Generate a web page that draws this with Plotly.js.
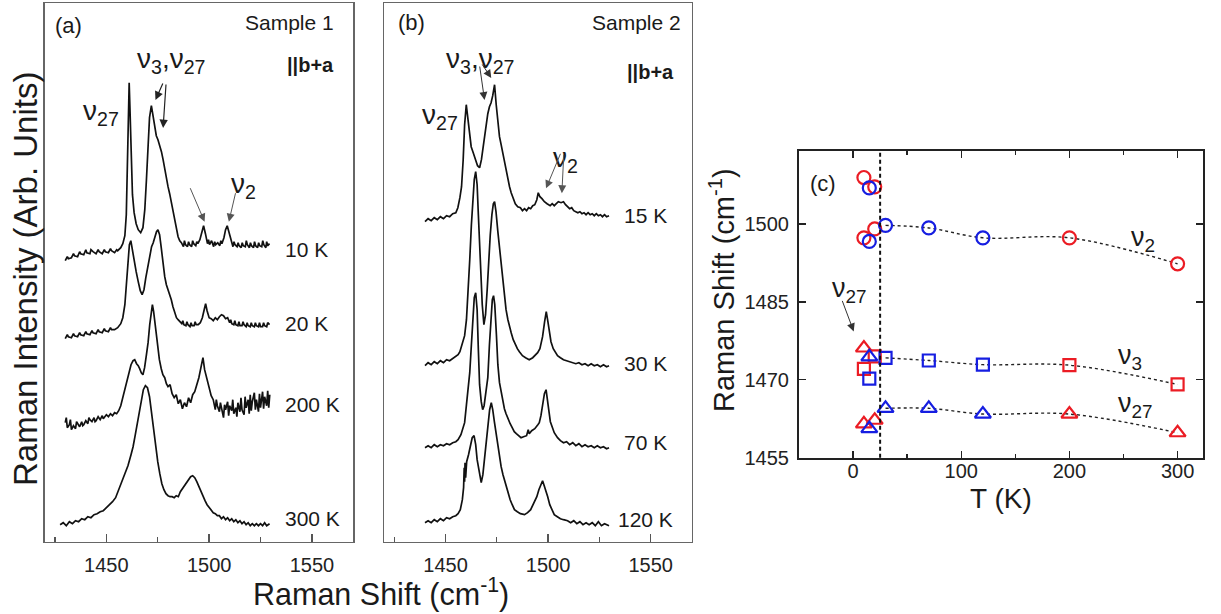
<!DOCTYPE html>
<html><head><meta charset="utf-8">
<script src="https://cdn.plot.ly/plotly-3.0.1.min.js"></script>
<style>html,body{margin:0;padding:0;background:#fff}</style>
</head><body><div id="chart" style="width:1221px;height:614px"></div>
<script>
// ---------- Panel (a): Sample 1 spectra [Raman shift (cm-1), intensity (arb.)] ----------
const a_10K = [[1430,1],[1431,5],[1431.5,3],[1433,4],[1434,8],[1434.5,6],[1436,5],[1437,10],[1437.5,8],[1439,7],[1440,12],[1440.5,9],[1442,8],[1442.5,12],[1443.5,10],[1445,8],[1446,12],[1446.5,10],[1448,8],[1449,12],[1449.5,10],[1451,9],[1452,13],[1452.5,11],[1454,9],[1455,12],[1455.5,11],[1457,14],
[1458,18],[1459,26],[1459.7,47],[1460.3,92],[1460.8,152],[1461.1,179],[1461.5,152],[1462,102],[1462.7,67],[1463.5,49],[1464.5,38],[1465.5,32],[1466.7,29],[1467.8,34],[1468.7,52],[1469.5,82],[1470.3,117],[1471,144],[1471.9,156],[1472.7,147],[1473.5,134],[1474.3,126],[1475.1,122],[1476,116],[1476.8,110],[1477.6,102],[1478.4,92],[1479.2,84],[1480,75],[1480.8,68],[1481.6,59],[1482.4,50],[1483.3,39],[1484.1,31],[1484.9,25],[1485.7,21],[1486.5,19],
[1487.5,15],[1488,21],[1488.5,17],[1489.5,15],[1490,20],[1490.5,17],[1491.5,15],[1492,21],[1492.5,18],[1493.5,16],[1494,20],[1494.5,18],[1495.5,22],[1496.5,30],[1497.3,36],[1498.2,28],[1499.2,18],[1499.7,22],[1500.2,17],[1501.2,21],[1502.2,15],[1502.7,20],[1503.2,17],[1504.2,19],[1505.2,16],[1505.7,21],[1506.2,18],[1507.2,24],[1508,32],[1508.8,36],[1509.7,29],[1510.6,20],
[1511.6,15],[1512.1,20],[1512.6,17],[1513.6,15],[1514.1,19],[1514.6,16],[1515.6,14],[1516.1,19],[1516.6,16],[1517.6,15],[1518.1,21],[1518.6,17],[1519.6,14],[1520.1,19],[1520.6,16],[1521.6,14],[1522.1,20],[1522.6,16],[1523.6,14],[1524.1,19],[1524.6,16],[1525.6,15],[1526.1,21],[1526.6,17],[1527.6,14],[1528,20],[1528.5,16],[1529.4,18]];
const a_20K = [[1430,1],[1431,5],[1431.5,3],[1433,2],[1434,6],[1434.5,4],[1436,3],[1437,7],[1437.5,5],[1439,4],[1440,8],[1440.5,6],[1442,5],[1443,9],[1443.5,7],[1445,6],[1446,10],[1446.5,8],[1448,7],[1449,11],[1449.5,9],[1451,8],[1452,12],[1452.5,10],[1454,10],[1455.5,12],[1457,16],[1458,22],[1459,35],[1459.8,55],[1460.5,78],[1461.2,95],[1461.9,99],[1462.6,90],[1463.5,78],[1464.5,68],[1465.5,58],[1466.5,49],[1467.4,45],[1468.3,50],[1469.2,62],[1470.3,74],[1471.2,86],[1472,93],[1472.8,97],[1473.6,103],[1474.4,108],[1475.1,110],[1475.9,105],[1476.7,92],[1477.5,78],[1478.4,63],[1479.2,55],[1480,50],[1480.8,46],[1481.6,40],[1482.4,33],[1483.3,27],[1484.1,22],[1484.9,20],[1485.7,18],[1486.7,16],[1487.2,19],[1487.7,15],[1488.7,14],[1489.2,18],[1489.7,15],[1490.7,13],[1491.2,17],[1491.7,14],[1492.7,14],[1493.2,18],[1493.7,15],[1494.7,15],[1495.7,17],[1496.7,22],[1497.6,30],[1498.3,36],[1499,29],[1500,22],[1501,21],[1502,19],[1503,22],[1504,20],[1505,23],[1506,25],[1507,24],[1508,21],[1509,22],[1510,17],[1510.5,20],[1511,16],[1512,15],[1512.5,19],[1513,15],[1514,14],[1514.5,18],[1515,14],[1516,14],[1516.5,18],[1517,15],[1518,13],[1518.5,17],[1519,14],[1520,13],[1520.5,17],[1521,14],[1522,13],[1522.5,17],[1523,14],[1524,13],[1524.5,17],[1525,13],[1526,13],[1526.5,17],[1527,14],[1528,13],[1528.5,17],[1529.4,15]];
const a_200K = [[1430,7],[1430.5,12],[1431,2],[1432,5],[1432.5,10],[1433,0],[1434,4],[1435,1],[1435.5,8],[1436,6],[1437,3],[1438,8],[1438.5,4],[1439,5],[1440,9],[1441,6],[1441.5,12],[1442,10],[1443,8],[1444,12],[1444.5,8],[1445,9],[1446,13],[1447,10],[1448,14],[1448.5,11],[1449,12],[1450,15],[1451,13],[1452,16],[1453,14],[1454,17],[1455,16],[1456,19],[1457,24],[1458,32],[1459,40],[1460,50],[1461,58],[1462,65],[1463,69],[1463.8,70],[1464.7,66],[1465.5,64],[1466.2,61],[1467,57],[1467.8,55],[1468.6,62],[1469.5,75],[1470.3,87],[1471.1,105],[1471.8,120],[1472.4,125],[1473,118],[1473.7,106],[1474.3,97],[1475,85],[1475.8,70],[1476.7,61],[1477.5,55],[1478.4,52],[1479.2,46],[1480,43],[1481,45],[1482,36],[1483,32],[1484,35],[1485,26],[1486,30],[1487,21],[1488,27],[1489,23],[1490,32],[1491,27],[1492,35],[1493,38],[1494,45],[1495,52],[1496,62],[1497,72],[1497.8,60],[1498.6,54],[1499.4,47],[1500.2,40],[1501,34],[1502,30],[1503,20],[1503.5,30],[1504,24],[1505,18],[1505.5,27],[1506,22],[1507,12],[1507.5,25],[1508,20],[1509,28],[1509.5,14],[1510,24],[1511,19],[1511.5,30],[1512,16],[1513,22],[1513.5,13],[1514,27],[1515,18],[1515.5,32],[1516,20],[1517,15],[1517.5,33],[1518,22],[1519,30],[1519.5,16],[1520,35],[1520.5,19],[1521,28],[1522,37],[1522.5,20],[1523,30],[1524,18],[1524.5,36],[1525,22],[1526,38],[1526.5,21],[1527,33],[1528,24],[1528.5,39],[1529,22],[1529.5,35]];
const a_300K = [[1427.5,2],[1429,4],[1430.5,1],[1432,5],[1433.5,3],[1435,6],[1436.5,5],[1438,8],[1439.5,7],[1441,10],[1442.5,9],[1444,12],[1445.5,13],[1447,15],[1448.5,16],[1450,19],[1451.5,21],[1453,25],[1454.5,29],[1456,37],[1457.5,43],[1459,51],[1460.5,61],[1462,72],[1463,80],[1464,91],[1465,103],[1466,114],[1467,127],[1468,137],[1469,141],[1470,139],[1471,130],[1472,113],[1473,97],[1474,81],[1475,65],[1476,53],[1477,43],[1478,37],[1479,33],[1480,31],[1481,30],[1482,30],[1483,29],[1484,31],[1485,30],[1486,35],[1487,38],[1488,42],[1489,45],[1490,48],[1491,50],[1492,51],[1493,49],[1494,45],[1495,40],[1496,35],[1497,30],[1498,26],[1499,22],[1500,19],[1501,17],[1502,14],[1503,13],[1504,11],[1505,11],[1506,8],[1507,10],[1508,7],[1509,9],[1510,6],[1511,8],[1512,5],[1513,7],[1514,4],[1515,6],[1516,3],[1517,5],[1518,2],[1519,4],[1520,1],[1521,3],[1522,1],[1523,3],[1524,1],[1525,3],[1526,1],[1527,4],[1528,1],[1529.4,3]];

// ---------- Panel (b): Sample 2 spectra ----------
const b_15K = [[1440,0],[1441.5,3],[1443,1],[1444.5,4],[1446,2],[1447.5,5],[1449,3],[1450.5,6],[1452,5],[1453.5,8],[1455,9],[1456,14],[1457,24],[1457.8,35],[1458.6,62],[1459.3,97],[1460.1,117],[1460.9,104],[1461.7,87],[1462.5,75],[1463.5,69],[1464.5,62],[1465.6,56],[1466.6,54],[1467.5,62],[1468.3,74],[1469,85],[1469.8,97],[1470.6,108],[1471.4,115],[1472.2,119],[1473,126],[1473.9,137],[1474.7,117],[1475.5,97],[1476.3,85],[1477.1,77],[1477.9,69],[1478.7,59],[1479.5,50],[1480.4,42],[1481.2,35],[1482,29],[1483,23],[1484,18],[1485.2,15],[1486.5,14],[1487.5,11],[1488.5,13],[1489.5,11],[1490.5,14],[1491.5,13],[1492.5,16],[1493.5,17],[1494.5,22],[1495.2,29],[1496,25],[1497,23],[1498.2,20],[1499.5,18],[1501,16],[1502,18],[1503,16],[1504,18],[1505,20],[1506.3,19],[1507.5,20],[1508.5,17],[1509.5,15],[1510.5,13],[1511.5,14],[1512.5,11],[1513.5,10],[1514.5,9],[1515.5,10],[1516.5,8],[1517.5,9],[1518.5,7],[1519.5,9],[1520.5,7],[1521.5,8],[1522.5,6],[1523.5,8],[1524.5,6],[1525.5,7],[1526.5,5],[1527.5,7],[1528.5,5],[1529.7,6]];
const b_30K = [[1440,1],[1441.5,4],[1443,2],[1444.5,5],[1446,3],[1447.5,6],[1449,4],[1450.5,7],[1452,6],[1453.5,8],[1455,10],[1456.1,12],[1457,15],[1458,21],[1459.3,31],[1460.2,47],[1461,72],[1461.8,107],[1462.6,142],[1463.4,172],[1464,187],[1464.7,195],[1465.4,182],[1466,152],[1466.6,124],[1467.2,92],[1467.9,62],[1468.7,42],[1469.5,52],[1470.3,77],[1471,107],[1471.8,132],[1472.6,152],[1473.3,163],[1473.9,165],[1474.6,155],[1475.5,135],[1476.3,120],[1477.1,102],[1477.9,85],[1478.7,70],[1479.5,57],[1480.4,47],[1481.2,39],[1482,34],[1483,27],[1484,22],[1485,18],[1486,15],[1487.5,11],[1489,9],[1490.8,7],[1492.5,9],[1494,12],[1494.9,14],[1496,18],[1497.3,30],[1498.3,45],[1499.1,55],[1499.9,45],[1500.7,32],[1501.4,25],[1502.5,18],[1503.5,14],[1504.6,11],[1506,9],[1507.5,7],[1509,6],[1510.5,5],[1512,4],[1513.5,3],[1515,4],[1516.5,2],[1518,3],[1519.5,1],[1521,3],[1522.5,1],[1524,2],[1525.5,0],[1527,2],[1528.5,0],[1529.7,1]];
const b_70K = [[1440,1],[1441.5,3],[1443,1],[1444.5,4],[1446,2],[1447.5,4],[1449,3],[1450.5,5],[1452,4],[1453.5,6],[1455,7],[1456.1,9],[1457.5,14],[1459.3,26],[1460.2,44],[1461,59],[1461.8,76],[1462.6,104],[1463.4,134],[1464,151],[1464.7,156],[1465.4,139],[1466,99],[1466.6,64],[1467.4,47],[1468.1,39],[1468.8,43],[1469.6,54],[1470.6,71],[1471.4,104],[1472.2,134],[1472.8,149],[1473.4,153],[1474,144],[1474.8,114],[1475.5,84],[1476.3,66],[1477.1,56],[1477.9,47],[1478.7,40],[1479.5,35],[1480.4,30],[1481.5,25],[1482.5,21],[1483.5,17],[1484.5,15],[1485.5,13],[1486.8,11],[1488,12],[1489.5,13],[1490.3,19],[1490.8,15],[1492,18],[1493.5,20],[1495,24],[1495.7,26],[1496.5,33],[1497.3,43],[1498.2,55],[1499,59],[1499.8,49],[1500.5,36],[1501.1,27],[1502,21],[1503,16],[1504.6,11],[1506,8],[1507.5,6],[1509,7],[1510.5,4],[1512,6],[1513.5,3],[1515,5],[1516.5,2],[1518,4],[1519.5,2],[1521,3],[1522.5,1],[1524,3],[1525.5,1],[1527,2],[1528.5,0],[1529.7,1]];
const b_120K = [[1440,2],[1441.5,4],[1443,2],[1444.5,5],[1446,3],[1447.5,6],[1449,4],[1450.5,7],[1452,6],[1453.5,8],[1455,9],[1456.1,11],[1457.2,15],[1458.2,25],[1458.8,37],[1459.1,57],[1459.3,43],[1459.5,62],[1459.8,47],[1460.3,63],[1461.2,70],[1462.1,80],[1463,87],[1463.9,89],[1464.7,80],[1465.4,65],[1466,57],[1466.7,47],[1467.4,42],[1468.2,50],[1469,67],[1469.9,85],[1470.7,103],[1471.5,115],[1472.3,122],[1473,115],[1473.8,103],[1474.7,90],[1475.5,77],[1476.3,67],[1477.1,58],[1478,50],[1479,42],[1480.4,32],[1481.5,25],[1482.5,20],[1483.6,15],[1485,13],[1486.5,11],[1488.5,10],[1490,12],[1491.5,15],[1493.3,22],[1494.5,28],[1495.5,35],[1496.5,41],[1497.3,44],[1498.1,39],[1499,34],[1499.8,28],[1500.8,20],[1501.8,15],[1503,10],[1504.5,8],[1506,6],[1507.5,5],[1509.5,4],[1511,2],[1512.5,4],[1514,1],[1515.5,3],[1517,0],[1518.5,2],[1520,0],[1521.5,2],[1523,-1],[1524.5,3],[1526,-1],[1527.5,1],[1529.7,-1]];

const specA = [a_10K, a_20K, a_200K, a_300K];
const labelsA = ['10 K', '20 K', '200 K', '300 K'];
const offsetsA = [280, 202, 112, 15];
const specB = [b_15K, b_30K, b_70K, b_120K];
const labelsB = ['15 K', '30 K', '70 K', '120 K'];
const offsetsB = [320, 175, 93, 17];

// ---------- Panel (c): peak positions vs temperature ----------
const nu2_red_T = [10, 20, 10, 20, 200, 300];
const nu2_red = [1508.9, 1507.1, 1497.3, 1499.0, 1497.3, 1492.3];
const nu2_blue_T = [15, 15, 30, 70, 120];
const nu2_blue = [1506.9, 1496.6, 1499.7, 1499.2, 1497.3];
const nu3_red_T = [10, 20, 200, 300];
const nu3_red = [1472.1, 1474.5, 1472.8, 1469.1];
const nu3_blue_T = [15, 30, 70, 120];
const nu3_blue = [1470.2, 1474.2, 1473.7, 1472.9];
const nu27_red_T = [10, 10, 20, 200, 300];
const nu27_red = [1476.1, 1461.5, 1462.2, 1463.4, 1459.8];
const nu27_blue_T = [15, 15, 30, 70, 120];
const nu27_blue = [1474.4, 1460.6, 1464.5, 1464.5, 1463.4];
const transitionT = 25;

const FONT = 'Arial, "Liberation Sans", sans-serif';
const RED = 'rgb(235,28,36)', BLUE = 'rgb(22,30,225)';
const W = 1221, H = 614;
const px = v => v / W, py = v => 1 - v / H;

const traces = [];
specA.forEach((s, i) => traces.push({x: s.map(p => p[0]), y: s.map(p => p[1] + offsetsA[i]), xaxis: 'x', yaxis: 'y', mode: 'lines', line: {color: '#111', width: 1.7}, hoverinfo: 'skip'}));
specB.forEach((s, i) => traces.push({x: s.map(p => p[0]), y: s.map(p => p[1] + offsetsB[i]), xaxis: 'x2', yaxis: 'y2', mode: 'lines', line: {color: '#111', width: 1.7}, hoverinfo: 'skip'}));

function connector(tb, vb, tr, vr) {
  const pts = [];
  tb.forEach((t, i) => { if (t >= 30) pts.push([t, vb[i]]); });
  tr.forEach((t, i) => { if (t >= 30) pts.push([t, vr[i]]); });
  pts.sort((a, b) => a[0] - b[0]);
  return {x: pts.map(p => p[0]), y: pts.map(p => p[1]), xaxis: 'x3', yaxis: 'y3', mode: 'lines', line: {color: '#222', width: 1.4, dash: 'dot', shape: 'spline'}, hoverinfo: 'skip'};
}
traces.push(connector(nu2_blue_T, nu2_blue, nu2_red_T, nu2_red));
traces.push(connector(nu3_blue_T, nu3_blue, nu3_red_T, nu3_red));
traces.push(connector(nu27_blue_T, nu27_blue, nu27_red_T, nu27_red));

function pts(t, v, sym, col, size) {
  return {x: t, y: v, xaxis: 'x3', yaxis: 'y3', mode: 'markers', marker: {symbol: sym, size: size, color: col, line: {color: col, width: 2.2}}};
}
traces.push(pts(nu2_red_T, nu2_red, 'circle-open', RED, 13));
traces.push(pts(nu2_blue_T, nu2_blue, 'circle-open', BLUE, 13));
traces.push(pts(nu3_red_T, nu3_red, 'square-open', RED, 12));
traces.push(pts(nu3_blue_T, nu3_blue, 'square-open', BLUE, 12));
traces.push(pts(nu27_red_T, nu27_red, 'triangle-up-open', RED, 14));
traces.push(pts(nu27_blue_T, nu27_blue, 'triangle-up-open', BLUE, 14));

const tickF = {family: FONT, size: 20, color: '#222'};
const specX = (dom) => ({domain: dom, range: [1420, 1570], tickvals: [1450, 1500, 1550], ticks: 'inside', ticklen: 8, tickwidth: 1.3, tickcolor: '#555',
  minor: {tickvals: [1425, 1475, 1525], ticks: 'inside', ticklen: 5, tickwidth: 1.3, tickcolor: '#555'},
  showline: true, mirror: true, linecolor: '#666', linewidth: 1.5, showgrid: false, zeroline: false, tickfont: tickF, ticklabelstandoff: 5});
const specY = (dom) => ({domain: dom, range: [0, 538.7], showticklabels: false, ticks: '', showline: true, mirror: true, linecolor: '#666', linewidth: 1.5, showgrid: false, zeroline: false});

const annotations = [];
function txt(x, y, text, size, opts) { annotations.push(Object.assign({xref: 'paper', yref: 'paper', x: px(x), y: py(y), text: text, showarrow: false, font: {family: FONT, size: size, color: '#1a1a1a'}, xanchor: 'center', yanchor: 'middle'}, opts || {})); }
function arrow(xr, yr, x, y, ax, ay, col, w, hs) { annotations.push({xref: xr, yref: yr, x: x, y: y, ax: ax, ay: ay, text: '', showarrow: true, arrowhead: 2, arrowsize: hs, arrowwidth: w, arrowcolor: col}); }

// panel a texts
txt(68, 25, '(a)', 22);
txt(336, 22, 'Sample 1', 21, {xanchor: 'right'});
txt(336, 65, '<b>||b+a</b>', 20, {xanchor: 'right'});
txt(101, 113, 'ν<sub>27</sub>', 28);
txt(171, 60, 'ν<sub>3</sub>,ν<sub>27</sub>', 28);
txt(243, 185, 'ν<sub>2</sub>', 28);
const labYA = [250, 323, 404, 518];
labelsA.forEach((l, i) => txt(283, labYA[i], l, 21, {xanchor: 'left'}));
// panel b texts
txt(411, 22, '(b)', 22);
txt(683, 22, 'Sample 2', 21, {xanchor: 'right'});
txt(676, 72, '<b>||b+a</b>', 20, {xanchor: 'right'});
txt(440, 117, 'ν<sub>27</sub>', 28);
txt(480, 60, 'ν<sub>3</sub>,ν<sub>27</sub>', 28);
txt(565, 159, 'ν<sub>2</sub>', 28);
const labYB = [216, 363, 442, 519];
labelsB.forEach((l, i) => txt(i === 3 ? 616 : 622, labYB[i], l, 21, {xanchor: 'left'}));
// common titles
txt(381, 592, 'Raman Shift (cm<sup>-1</sup>)', 30.5);
txt(25, 279, 'Raman Intensity (Arb. Units)', 33, {textangle: -90});
// panel c texts
txt(823, 183, '(c)', 22);
txt(1143, 239, 'ν<sub>2</sub>', 27);
txt(1130, 357, 'ν<sub>3</sub>', 27);
txt(1135, 405, 'ν<sub>27</sub>', 27);
txt(849, 290, 'ν<sub>27</sub>', 27);
txt(1001, 498, 'T (K)', 28);
txt(722, 290, 'Raman Shift (cm<sup>-1</sup>)', 29, {textangle: -90});

// arrows
arrow('x', 'y', 1473.9, 441.7, 8, -18, '#222', 1.2, 1.4);
arrow('x', 'y', 1477.6, 413.7, 3, -45, '#222', 1.2, 1.4);
arrow('x', 'y', 1497.8, 320, -15, -35, '#555', 1, 1.6);
arrow('x', 'y', 1509.6, 320, 7, -30, '#555', 1, 1.6);
arrow('x2', 'y2', 1469.0, 441.7, -5, -35, '#333', 1, 1.6);
arrow('x2', 'y2', 1472.3, 463.7, -10, -15, '#333', 1, 1.6);
arrow('x2', 'y2', 1499.0, 353.4, 15, -36, '#555', 1, 1.6);
arrow('x2', 'y2', 1506.7, 348.4, 2, -40, '#555', 1, 1.6);
arrow('x3', 'y3', 0.6, 1479.3, -12, -32, '#333', 1, 1.6);

const layout = {
  width: W, height: H, margin: {l: 0, r: 0, t: 0, b: 0}, paper_bgcolor: '#fff', plot_bgcolor: '#fff', showlegend: false,
  font: {family: FONT, color: '#1a1a1a'},
  xaxis: Object.assign(specX([px(44.7), px(353)]), {anchor: 'y'}),
  yaxis: Object.assign(specY([py(541.7), py(3)]), {anchor: 'x'}),
  xaxis2: Object.assign(specX([px(384), px(691.7)]), {anchor: 'y2'}),
  yaxis2: Object.assign(specY([py(541.7), py(3)]), {anchor: 'x2'}),
  xaxis3: {domain: [px(799), px(1203)], anchor: 'y3', range: [-50, 323.5], tickvals: [0, 100, 200, 300], ticks: 'inside', ticklen: 7, tickwidth: 1.5, tickcolor: '#222',
    minor: {tickvals: [50, 150, 250], ticks: 'inside', ticklen: 4, tickwidth: 1.5, tickcolor: '#222'},
    showline: true, mirror: 'ticks', linecolor: '#222', linewidth: 2, showgrid: false, zeroline: false, tickfont: tickF, ticklabelstandoff: -6},
  yaxis3: {domain: [py(457.7), py(151)], anchor: 'x3', range: [1455, 1514], tickvals: [1455, 1470, 1485, 1500], ticks: 'inside', ticklen: 7, tickwidth: 1.5, tickcolor: '#222',
    showline: true, mirror: 'ticks', linecolor: '#222', linewidth: 2, showgrid: false, zeroline: false, tickfont: tickF, ticklabelstandoff: 4},
  shapes: [{type: 'line', xref: 'x3', yref: 'y3 domain', x0: transitionT, x1: transitionT, y0: 0, y1: 1, line: {color: '#111', width: 2, dash: '4px,3px'}}],
  annotations: annotations
};
Plotly.newPlot('chart', traces, layout, {staticPlot: true, displayModeBar: false});
</script></body></html>
